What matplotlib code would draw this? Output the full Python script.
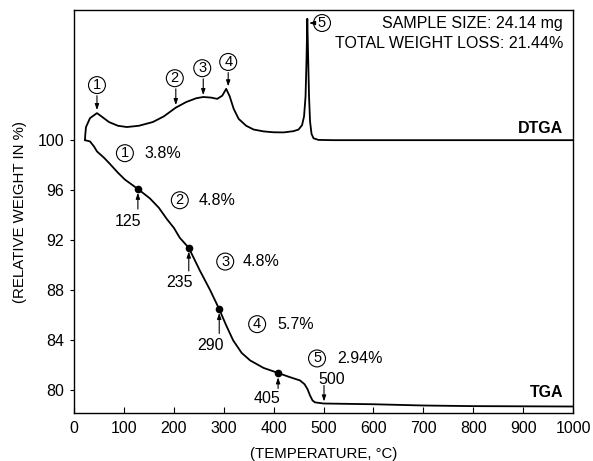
import matplotlib
matplotlib.use("Agg")
import matplotlib.pyplot as plt

plt.rcParams['font.family'] = ['Liberation Sans', 'DejaVu Sans']

# TGA curve (temperature C, relative weight %)
tga_temp = [22, 32, 40, 46, 60, 72, 88, 102, 128, 152, 170, 186, 200, 212, 230, 252, 273, 291,
            305, 319, 336, 353, 380, 409, 430, 453, 462, 468, 473, 478, 483, 500, 600, 700, 800, 1000]
tga_weight = [100.0, 99.9, 99.5, 99.1, 98.6, 98.1, 97.4, 96.85, 96.1, 95.35, 94.6, 93.7, 93.0, 92.2, 91.4,
              89.6, 88.0, 86.5, 85.2, 84.0, 83.0, 82.4, 81.8, 81.4, 81.1, 80.8, 80.5, 80.1, 79.6, 79.2,
              79.05, 78.96, 78.9, 78.8, 78.75, 78.72]

# DTGA curve, drawn on the same axis (baseline sits on 100)
dtga_temp = [22, 22.5, 24, 32, 46, 55, 70, 88, 106, 130, 158, 180, 204, 225, 245, 259, 275, 287, 297, 305,
             312, 320, 330, 345, 360, 380, 400, 420, 440, 450, 457, 461, 464, 466, 467.5, 469, 471, 473,
             476, 480, 490, 520, 1000]
dtga_val = [100.0, 100.4, 101.04, 101.76, 102.16, 101.9, 101.45, 101.15, 101.05, 101.15, 101.45, 101.9, 102.6,
            103.05, 103.35, 103.45, 103.4, 103.3, 103.55, 104.1, 103.5, 102.5, 101.7, 101.15, 100.85, 100.7,
            100.63, 100.62, 100.72, 100.85, 101.2, 101.9, 103.5, 106.5, 109.7, 107.0, 103.5, 101.5, 100.5,
            100.15, 100.02, 100.0, 100.0]

# marked points on TGA
dot_temp = [128, 230, 291, 409]
dot_weight = [96.1, 91.4, 86.5, 81.4]
dot_labels = ["125", "235", "290", "405"]

# weight loss steps
step_ids = ["1", "2", "3", "4", "5"]
step_loss = ["3.8%", "4.8%", "4.8%", "5.7%", "2.94%"]

xticks = [0, 100, 200, 300, 400, 500, 600, 700, 800, 900, 1000]
yticks = [80, 84, 88, 92, 96, 100]

fig = plt.figure(figsize=(5.93, 4.61), dpi=100)
ax = fig.add_axes([0.1248, 0.1041, 0.8415, 0.8742])

ax.plot(tga_temp, tga_weight, color='black', lw=1.3)
ax.plot(dtga_temp, dtga_val, color='black', lw=1.3)
ax.plot(dot_temp, dot_weight, 'o', color='black', ms=4.5)

ax.set_xlim(0, 1000)
ax.set_ylim(78.2, 110.4)
ax.set_xticks(xticks)
ax.set_yticks(yticks)
ax.tick_params(axis='x', direction='in', length=4, labelsize=11.5, pad=6)
ax.tick_params(axis='y', direction='out', length=3, labelsize=11.5, pad=4)
for s in ax.spines.values():
    s.set_linewidth(1.0)

ax.set_xlabel("(TEMPERATURE, °C)", fontsize=10.8, labelpad=8)
ax.set_ylabel("(RELATIVE WEIGHT IN %)", fontsize=10.8, labelpad=8)

arrow = dict(arrowstyle='-|>,head_length=0.35,head_width=0.12', color='black', lw=0.8, shrinkA=0, shrinkB=0)
circ = dict(boxstyle='circle,pad=0.1', fc='white', ec='black', lw=0.8)
fs = 11.5

# DTGA peak labels
dtga_circ_pos = [(46, 104.4), (202, 104.95), (257, 105.75), (309, 106.25)]
dtga_tips = [(46, 102.4), (204, 102.8), (259, 103.6), (309, 104.3)]
for i in range(4):
    cx, cy = dtga_circ_pos[i]
    ax.text(cx, cy, step_ids[i], ha='center', va='center', fontsize=10.5, bbox=circ)
    ax.annotate('', xy=dtga_tips[i], xytext=(dtga_tips[i][0], cy - 0.85), arrowprops=arrow)
ax.text(497, 109.36, step_ids[4], ha='center', va='center', fontsize=10.5, bbox=circ)
ax.annotate('', xy=(471, 109.36), xytext=(484, 109.36), arrowprops=arrow)

# TGA step labels
tga_circ_pos = [(102, 98.96), (212, 95.2), (303, 90.3), (367, 85.3), (487, 82.56)]
tga_text_x = [142, 250, 337, 407, 527]
for i in range(5):
    cx, cy = tga_circ_pos[i]
    ax.text(cx, cy, step_ids[i], ha='center', va='center', fontsize=10.5, bbox=circ)
    ax.text(tga_text_x[i], cy, step_loss[i], ha='left', va='center', fontsize=fs)

# temperature markers
lab_pos = [(109, 93.5), (212, 88.64), (273, 83.6), (387, 79.36)]
arr_start = [94.5, 89.55, 84.56, 80.16]
arr_end = [95.8, 91.1, 86.2, 81.05]
for i in range(4):
    ax.text(lab_pos[i][0], lab_pos[i][1], dot_labels[i], ha='center', va='center', fontsize=fs)
    ax.annotate('', xy=(dot_temp[i], arr_end[i]), xytext=(dot_temp[i], arr_start[i]), arrowprops=arrow)
ax.text(517, 80.88, "500", ha='center', va='center', fontsize=fs)
ax.annotate('', xy=(501, 79.12), xytext=(501, 80.4), arrowprops=arrow)

ax.text(980, 109.36, "SAMPLE SIZE: 24.14 mg", ha='right', va='center', fontsize=fs)
ax.text(980, 107.76, "TOTAL WEIGHT LOSS: 21.44%", ha='right', va='center', fontsize=fs)
ax.text(980, 100.96, "DTGA", ha='right', va='center', fontsize=fs, fontweight='bold')
ax.text(980, 79.84, "TGA", ha='right', va='center', fontsize=fs, fontweight='bold')

fig.savefig("out.png", dpi=100)
